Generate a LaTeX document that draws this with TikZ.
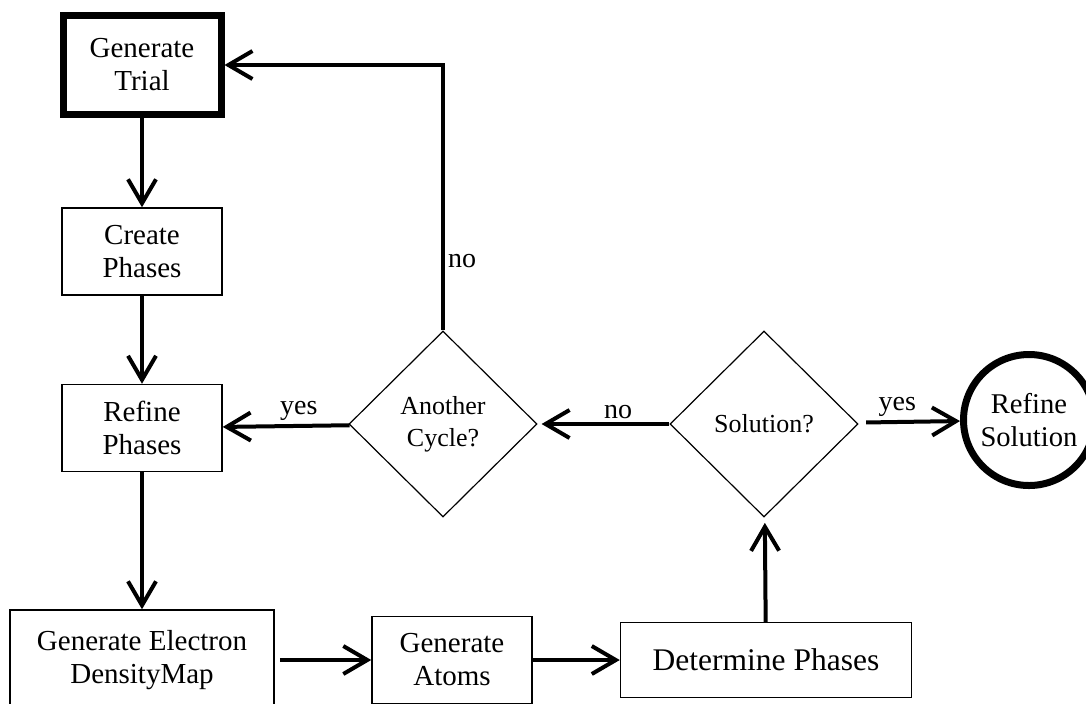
\documentclass[tikz,border=0pt]{standalone}
\usepackage{fontspec}
\setmainfont{Liberation Serif}
\usetikzlibrary{shapes.geometric,arrows.meta}
\tikzstyle{process}=[rectangle, draw, line width=0.75pt, align=center, inner sep=2pt, font=\fontsize{14.5}{16.5}\selectfont, minimum width=80pt, minimum height=43.5pt]
\tikzstyle{start}=[process, line width=3.5pt, minimum width=79pt, minimum height=49.5pt]
\tikzstyle{decision}=[diamond, draw, line width=0.6pt, align=center, inner sep=0pt, font=\fontsize{13}{16}\selectfont, minimum width=94pt, minimum height=93pt]
\tikzstyle{stop}=[circle, draw, line width=3.5pt, align=center, inner sep=0pt, font=\fontsize{14.3}{16.5}\selectfont, minimum size=65.5pt]
\tikzstyle{flow}=[line width=2pt, -{Straight Barb[length=12pt,width=14pt]}]
\tikzstyle{answer}=[font=\fontsize{14}{16}\selectfont, inner sep=1.5pt]

\begin{document}
\begin{tikzpicture}[x=0.5pt, y=-0.5pt]
            \clip (0,0) rectangle (1086,703);
            \node[start] (trial) at (142,65) {Generate\\Trial};
            \node[process] (create) at (142,251.5) {Create\\Phases};
            \node[process] (refinep) at (142,428) {Refine\\Phases};
            \node[process, minimum width=132pt, minimum height=50pt] (density) at (142,660) {Generate Electron\\DensityMap};
            \node[process] (atoms) at (452,660) {Generate\\Atoms};
            \node[process, minimum width=145.5pt, minimum height=37.5pt, font=\fontsize{15.75}{18}\selectfont] (determine) at (766,660) {Determine Phases};
            \node[decision] (cycle) at (443,424) {Another\\Cycle?};
            \node[decision] (solution) at (764,424) {Solution?};
            \node[stop] (refines) at (1029,420) {Refine\\Solution};
            \path[flow]
                (trial) edge (create)
                (create) edge (refinep)
                (refinep) edge (density)
                (density) edge[shorten <=2.5pt] (atoms)
                (atoms) edge (determine)
                (determine) edge[shorten >=3pt] (solution)
                (solution) edge[shorten <=4.5pt] node[answer, pos=0.39, above] {yes} (refines)
                (solution) edge[shorten >=2pt] node[answer, pos=0.39, above] {no} (cycle)
                (cycle) edge node[answer, pos=0.4, above] {yes} (refinep)
            ;
            \draw[flow] (cycle) |- node[answer, pos=0.13, right] {no} (trial);
        \end{tikzpicture}
\end{document}
